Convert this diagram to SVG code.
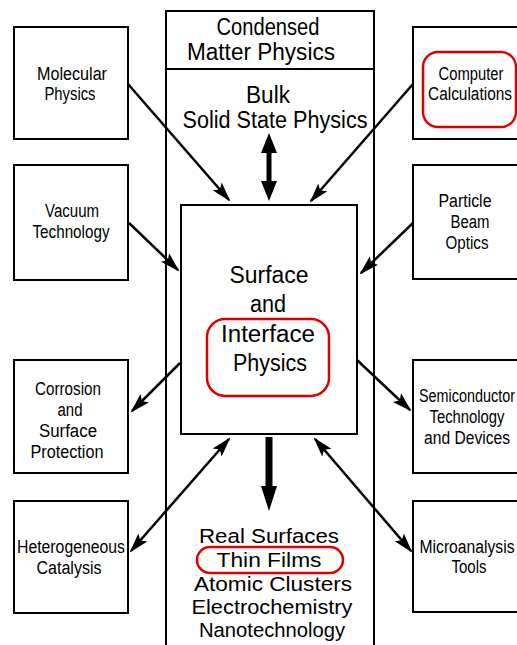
<svg xmlns="http://www.w3.org/2000/svg" width="517" height="645" viewBox="0 0 517 645">
<style>
.box{fill:none;stroke:#000;stroke-width:2}
.t{font-family:"Liberation Sans",Arial,sans-serif;fill:#000;text-anchor:middle}
.s{font-size:18px}
.b{font-size:23px}
.c{font-size:20.5px}
.hl{fill:none;stroke:#e00000;stroke-width:2.5}
.arr{stroke:#000;stroke-width:2.5;fill:none}
</style>
<defs>
<marker id="ah" markerUnits="userSpaceOnUse" markerWidth="22" markerHeight="14" refX="18" refY="6" orient="auto-start-reverse" viewBox="0 0 22 12">
<path d="M0,0 L20,6 L0,12 L4,6 z" fill="#000"/>
</marker>
</defs>
<rect width="517" height="645" fill="#fff"/>

<g id="condensed-matter">
<rect class="box" x="166" y="11" width="208" height="660"/>
<line class="box" x1="166" y1="69" x2="374" y2="69"/>
<text class="t b" x="268" y="35" textLength="103" lengthAdjust="spacingAndGlyphs">Condensed</text>
<text class="t b" x="261" y="60" textLength="148" lengthAdjust="spacingAndGlyphs">Matter Physics</text>
<text class="t b" x="268" y="103" textLength="44" lengthAdjust="spacingAndGlyphs">Bulk</text>
<text class="t b" x="275" y="128" textLength="185" lengthAdjust="spacingAndGlyphs">Solid State Physics</text>
</g>

<g id="surface-interface">
<rect class="box" x="181" y="205" width="176" height="229"/>
<text class="t b" x="269" y="283" textLength="79" lengthAdjust="spacingAndGlyphs">Surface</text>
<text class="t b" x="268" y="312" textLength="36" lengthAdjust="spacingAndGlyphs">and</text>
<text class="t b" x="268" y="342" textLength="94" lengthAdjust="spacingAndGlyphs">Interface</text>
<text class="t b" x="270" y="371" textLength="74" lengthAdjust="spacingAndGlyphs">Physics</text>
<rect class="hl" x="207" y="319" width="122" height="77" rx="18"/>
</g>

<g id="applications">
<text class="t c" x="269" y="543" textLength="140" lengthAdjust="spacingAndGlyphs">Real Surfaces</text>
<text class="t c" x="269" y="567" textLength="105" lengthAdjust="spacingAndGlyphs">Thin Films</text>
<rect class="hl" x="197" y="547" width="146" height="26" rx="13"/>
<text class="t c" x="273" y="591" textLength="158" lengthAdjust="spacingAndGlyphs">Atomic Clusters</text>
<text class="t c" x="272" y="614" textLength="161" lengthAdjust="spacingAndGlyphs">Electrochemistry</text>
<text class="t c" x="272" y="637" textLength="146" lengthAdjust="spacingAndGlyphs">Nanotechnology</text>
</g>

<g id="molecular-physics">
<rect class="box" x="14" y="27" width="114" height="112"/>
<text class="t s" x="72" y="80" textLength="70" lengthAdjust="spacingAndGlyphs">Molecular</text>
<text class="t s" x="70" y="100" textLength="51" lengthAdjust="spacingAndGlyphs">Physics</text>
</g>

<g id="vacuum-technology">
<rect class="box" x="14" y="165" width="114" height="115"/>
<text class="t s" x="72" y="217" textLength="54" lengthAdjust="spacingAndGlyphs">Vacuum</text>
<text class="t s" x="71" y="238" textLength="77" lengthAdjust="spacingAndGlyphs">Technology</text>
</g>

<g id="corrosion">
<rect class="box" x="14" y="360" width="114" height="113"/>
<text class="t s" x="68" y="395" textLength="66" lengthAdjust="spacingAndGlyphs">Corrosion</text>
<text class="t s" x="70" y="416" textLength="25" lengthAdjust="spacingAndGlyphs">and</text>
<text class="t s" x="68" y="437" textLength="58" lengthAdjust="spacingAndGlyphs">Surface</text>
<text class="t s" x="67" y="458" textLength="73" lengthAdjust="spacingAndGlyphs">Protection</text>
</g>

<g id="heterogeneous-catalysis">
<rect class="box" x="14" y="501" width="114" height="112"/>
<text class="t s" x="71" y="553" textLength="108" lengthAdjust="spacingAndGlyphs">Heterogeneous</text>
<text class="t s" x="69" y="574" textLength="65" lengthAdjust="spacingAndGlyphs">Catalysis</text>
</g>

<g id="computer-calculations">
<rect class="box" x="413" y="27" width="120" height="112"/>
<text class="t s" x="471" y="80" textLength="65" lengthAdjust="spacingAndGlyphs">Computer</text>
<text class="t s" x="470" y="100" textLength="84" lengthAdjust="spacingAndGlyphs">Calculations</text>
<rect class="hl" x="423" y="52" width="93" height="75" rx="15"/>
</g>

<g id="particle-beam-optics">
<rect class="box" x="413" y="165" width="120" height="114"/>
<text class="t s" x="465" y="207" textLength="53" lengthAdjust="spacingAndGlyphs">Particle</text>
<text class="t s" x="470" y="228" textLength="39" lengthAdjust="spacingAndGlyphs">Beam</text>
<text class="t s" x="467" y="249" textLength="43" lengthAdjust="spacingAndGlyphs">Optics</text>
</g>

<g id="semiconductor">
<rect class="box" x="413" y="360" width="120" height="113"/>
<text class="t s" x="467" y="402" textLength="96" lengthAdjust="spacingAndGlyphs">Semiconductor</text>
<text class="t s" x="467" y="423" textLength="75" lengthAdjust="spacingAndGlyphs">Technology</text>
<text class="t s" x="467" y="444" textLength="86" lengthAdjust="spacingAndGlyphs">and Devices</text>
</g>

<g id="microanalysis-tools">
<rect class="box" x="413" y="501" width="120" height="111"/>
<text class="t s" x="467" y="553" textLength="95" lengthAdjust="spacingAndGlyphs">Microanalysis</text>
<text class="t s" x="469" y="573" textLength="35" lengthAdjust="spacingAndGlyphs">Tools</text>
</g>

<g id="connectors">
<line class="arr" x1="128" y1="84" x2="229" y2="200" marker-end="url(#ah)"/>
<line class="arr" x1="413" y1="84" x2="311" y2="201" marker-end="url(#ah)"/>
<line class="arr" x1="129" y1="223" x2="178" y2="270" marker-end="url(#ah)"/>
<line class="arr" x1="413" y1="223" x2="361" y2="273" marker-end="url(#ah)"/>
<line class="arr" x1="180" y1="363" x2="132" y2="411" marker-end="url(#ah)"/>
<line class="arr" x1="357" y1="360" x2="410" y2="410" marker-end="url(#ah)"/>
<line class="arr" x1="229" y1="439" x2="131" y2="551" marker-start="url(#ah)" marker-end="url(#ah)"/>
<line class="arr" x1="315" y1="439" x2="411" y2="551" marker-start="url(#ah)" marker-end="url(#ah)"/>
<line x1="269" y1="150" x2="269" y2="184" stroke="#000" stroke-width="5"/>
<polygon points="269,133 261,153 277,153" fill="#000"/>
<polygon points="269,201 261,181 277,181" fill="#000"/>
<line x1="269" y1="437" x2="269" y2="490" stroke="#000" stroke-width="7"/>
<polygon points="269,511 261,486 277,486" fill="#000"/>
</g>
</svg>
